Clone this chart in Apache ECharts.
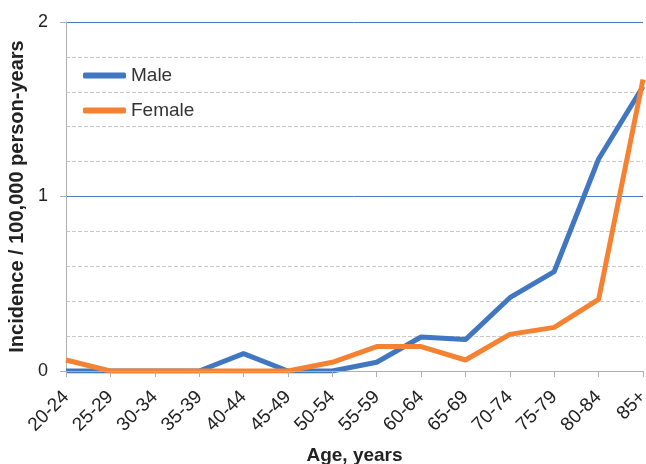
<!DOCTYPE html>
<html>
<head>
<meta charset="UTF-8">
<title></title>
<script src="https://cdn.jsdelivr.net/npm/echarts@6/dist/echarts.min.js"></script>
<style>
	body{margin:0;padding:0;background:#fff;}
	#main{width:646px;height:464px;}
</style>
</head>
<body>
<div id="main"></div>
<script type="text/javascript">
// age groups and incidence per 100,000 person-years
var ageGroups = ['20-24','25-29','30-34','35-39','40-44','45-49','50-54','55-59','60-64','65-69','70-74','75-79','80-84','85+'];
var maleData = [0, 0, 0, 0, 0.10, 0, 0, 0.05, 0.195, 0.18, 0.42, 0.57, 1.215, 1.63];
var femaleData = [0.063, 0, 0, 0, 0, 0, 0.05, 0.14, 0.14, 0.063, 0.21, 0.25, 0.41, 1.67];
var yTicks = ['0', '1', '2'];

var myChart = echarts.init(document.getElementById('main'));
var font = 'Liberation Sans, Arial, sans-serif';
myChart.setOption({
	animation: false,
	grid: {left: 66, right: 3, top: 22, bottom: 93, outerBoundsMode: 'none'},
	legend: {
		orient: 'vertical',
		left: 83,
		top: 66,
		padding: 0,
		icon: 'roundRect',
		itemWidth: 43,
		itemHeight: 6,
		itemGap: 16,
		textStyle: {fontFamily: font, fontSize: 19, color: '#333'},
		data: ['Male', 'Female']
	},
	xAxis: {
		type: 'category',
		boundaryGap: false,
		data: ageGroups,
		name: 'Age, years',
		nameLocation: 'middle',
		nameGap: 75,
		nameTextStyle: {fontFamily: font, fontSize: 19, fontWeight: 'bold', color: '#222'},
		axisLine: {lineStyle: {color: '#b0b0b0', width: 1}},
		axisTick: {show: true, length: 6, alignWithLabel: true, lineStyle: {color: '#b0b0b0'}},
		axisLabel: {rotate: 45, fontFamily: font, fontSize: 19, color: '#222', margin: 23, interval: 0},
		splitLine: {show: false},
		z: 10
	},
	yAxis: {
		type: 'value',
		min: 0,
		max: 2,
		interval: 1,
		name: 'Incidence / 100,000 person-years',
		nameLocation: 'middle',
		nameGap: 32,
		nameTextStyle: {fontFamily: font, fontSize: 20, fontWeight: 'bold', color: '#222'},
		axisLine: {show: true, lineStyle: {color: '#b0b0b0', width: 1}},
		axisTick: {show: true, length: 6, lineStyle: {color: '#b0b0b0'}},
		axisLabel: {
			fontFamily: font, fontSize: 18, color: '#222', margin: 18,
			formatter: function (v) { return yTicks[Math.round(v)]; }
		},
		splitLine: {show: true, lineStyle: {color: '#4a7cc4', width: 1}},
		minorTick: {show: false, splitNumber: 5},
		minorSplitLine: {show: true, lineStyle: {color: '#c8c8c8', type: 'dashed', width: 1}}
	},
	series: [
		{
			name: 'Male',
			type: 'line',
			data: maleData,
			showSymbol: false,
			symbol: 'none',
			color: '#4177c0',
			lineStyle: {width: 5, color: '#4177c0'}
		},
		{
			name: 'Female',
			type: 'line',
			data: femaleData,
			showSymbol: false,
			symbol: 'none',
			color: '#f58232',
			lineStyle: {width: 5, color: '#f58232'}
		}
	]
});
</script>
</body>
</html>
